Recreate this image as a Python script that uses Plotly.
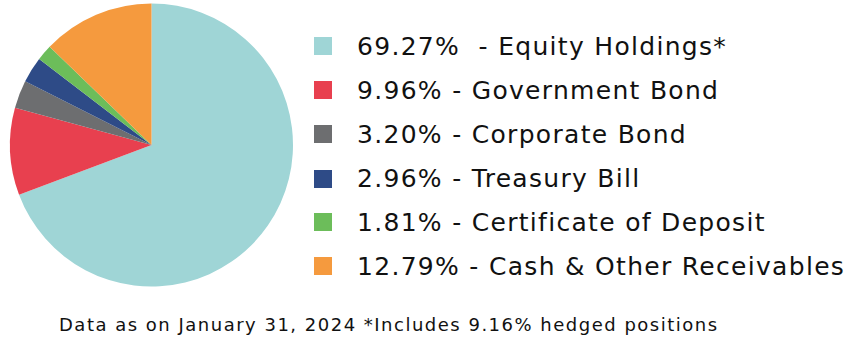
import plotly.graph_objects as go

labels = ["Equity Holdings*", "Government Bond", "Corporate Bond", "Treasury Bill",
          "Certificate of Deposit", "Cash & Other Receivables"]
values = [69.27, 9.96, 3.20, 2.96, 1.81, 12.79]
value_text = ["69.27%  -", "9.96% -", "3.20% -", "2.96% -", "1.81% -", "12.79% -"]
colors = ["#9fd5d6", "#e8404f", "#6d6e70", "#2e4b87", "#6cbd5a", "#f59a3e"]
footnote = "Data as on January 31, 2024 *Includes 9.16% hedged positions"

W, H = 856, 347
FONT = "DejaVu Sans"

fig = go.Figure(go.Pie(
    labels=labels, values=values, sort=False, direction="clockwise", rotation=0,
    marker=dict(colors=colors, line=dict(width=0)), textinfo="none", hoverinfo="label+value",
    domain=dict(x=[10 / W, 293 / W], y=[1 - 287 / H, 1 - 3 / H]), showlegend=False,
))

row_y = [46, 90, 134, 179, 222, 266]
shapes, annotations = [], []
for i, (lab, vt, c) in enumerate(zip(labels, value_text, colors)):
    y = row_y[i]
    shapes.append(dict(type="rect", xref="paper", yref="paper",
                       x0=314 / W, x1=332 / W, y0=1 - (y + 9) / H, y1=1 - (y - 9) / H,
                       fillcolor=c, line=dict(width=0)))
    annotations.append(dict(text=f'<span style="letter-spacing:1.3px">{vt} {lab}</span>',
                            xref="paper", yref="paper",
                            x=355 / W, y=1 - y / H, xanchor="left", yanchor="middle",
                            showarrow=False, font=dict(family=FONT, size=25, color="#111111")))
annotations.append(dict(text=f'<span style="letter-spacing:1.5px">{footnote}</span>',
                        xref="paper", yref="paper", x=57 / W, y=1 - 324 / H,
                        xanchor="left", yanchor="middle", showarrow=False,
                        font=dict(family=FONT, size=18, color="#111111")))

fig.update_layout(width=W, height=H, margin=dict(l=0, r=0, t=0, b=0),
                  paper_bgcolor="white", plot_bgcolor="white",
                  shapes=shapes, annotations=annotations)
fig.write_html("out.html")
